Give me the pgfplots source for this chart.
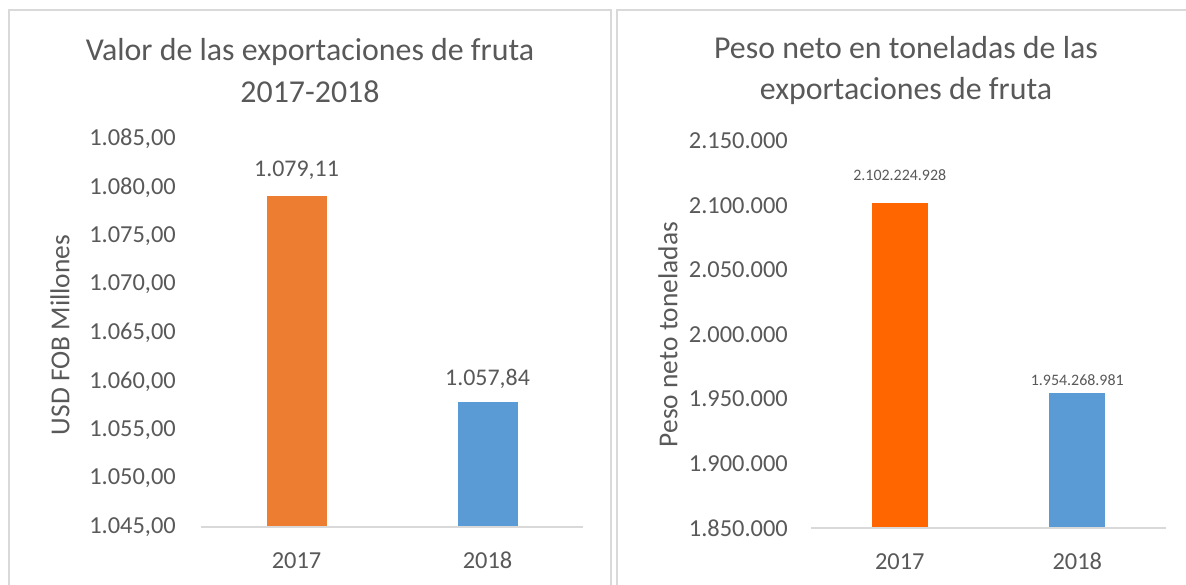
\documentclass[border=0pt]{standalone}
\usepackage{pgfplots}
\pgfplotsset{compat=1.18}
\usepackage{fontspec}
\setmainfont{Carlito}
\definecolor{txt}{HTML}{595959}
\definecolor{gridc}{HTML}{D9D9D9}
\definecolor{orA}{HTML}{ED7D31}
\definecolor{blA}{HTML}{5B9BD5}
\definecolor{orB}{HTML}{FF6600}
\pgfplotsset{
  excel/.style={
    scale only axis,
    axis line style={draw=none},
    major tick length=0pt,
    scaled y ticks=false,
    xmin=-0.5, xmax=1.5,
    xtick={0,1}, xticklabels={2017,2018},
    tick label style={font=\fontsize{24.5}{28}\selectfont, text=txt, inner sep=0pt},
    xticklabel style={anchor=base, yshift=-41.5bp},
    ylabel style={font=\fontsize{27.5}{32}\selectfont, text=txt, rotate=0, anchor=center},
    clip=false,
  }
}
\begin{document}
\begin{tikzpicture}[x=1bp,y=1bp]
\path[use as bounding box, clip] (0,0) rectangle (1186,585);
\fill[white] (0,0) rectangle (1186,585);
\draw[gridc, line width=1.5bp] (9,-10) rectangle (611,575);
\draw[gridc, line width=1.5bp] (617,-10) rectangle (1220,575);

\node[font=\fontsize{32}{41.5}\selectfont, text=txt, align=center] at (310,514.5) {Valor de las exportaciones de fruta\\2017-2018};
\node[font=\fontsize{32}{41.5}\selectfont, text=txt, align=center] at (906,514.5) {Peso neto en toneladas de las\\exportaciones de fruta};

\begin{axis}[excel,
  at={(201bp,58bp)}, anchor=south west,
  width=382bp, height=388bp,
  ymin=1045, ymax=1085,
  ytick={1045,1050,1055,1060,1065,1070,1075,1080,1085},
  yticklabels={{1.045,00},{1.050,00},{1.055,00},{1.060,00},{1.065,00},{1.070,00},{1.075,00},{1.080,00},{1.085,00}},
  yticklabel style={anchor=east, xshift=-25bp},
  ylabel={USD FOB Millones},
  ylabel style={at={(axis description cs:-0.369,0.495)}, rotate=0},
]
\addplot[ybar, bar shift=0pt, bar width=60bp, fill=orA, draw=none,
  nodes near coords={1.079,11},
  every node near coord/.append style={font=\fontsize{24}{28}\selectfont, text=txt, anchor=center, yshift=26bp}]
  coordinates {(0,1079.11)};
\addplot[ybar, bar shift=0pt, bar width=60bp, fill=blA, draw=none,
  nodes near coords={1.057,84},
  every node near coord/.append style={font=\fontsize{24}{28}\selectfont, text=txt, anchor=center, yshift=24bp}]
  coordinates {(1,1057.84)};
\draw[gridc, line width=1.5bp] (axis cs:-0.5,1045) -- (axis cs:1.5,1045);
\end{axis}

\begin{axis}[excel,
  at={(811bp,57bp)}, anchor=south west,
  width=355bp, height=387bp,
  ymin=1850000, ymax=2150000,
  ytick={1850000,1900000,1950000,2000000,2050000,2100000,2150000},
  yticklabels={1.850.000,1.900.000,1.950.000,2.000.000,2.050.000,2.100.000,2.150.000},
  yticklabel style={anchor=east, xshift=-23bp},
  ylabel={Peso neto toneladas},
  ylabel style={at={(axis description cs:-0.403,0.5)}, rotate=0},
]
\addplot[ybar, bar shift=0pt, bar width=56bp, fill=orB, draw=none,
  nodes near coords={2.102.224.928},
  every node near coord/.append style={font=\fontsize{16}{19}\selectfont, text=txt, anchor=center, yshift=28bp}]
  coordinates {(0,2102224.928)};
\addplot[ybar, bar shift=0pt, bar width=56bp, fill=blA, draw=none,
  nodes near coords={1.954.268.981},
  every node near coord/.append style={font=\fontsize{16}{19}\selectfont, text=txt, anchor=center, yshift=13bp}]
  coordinates {(1,1954268.981)};
\draw[gridc, line width=1.5bp] (axis cs:-0.5,1850000) -- (axis cs:1.5,1850000);
\end{axis}
\end{tikzpicture}
\end{document}
